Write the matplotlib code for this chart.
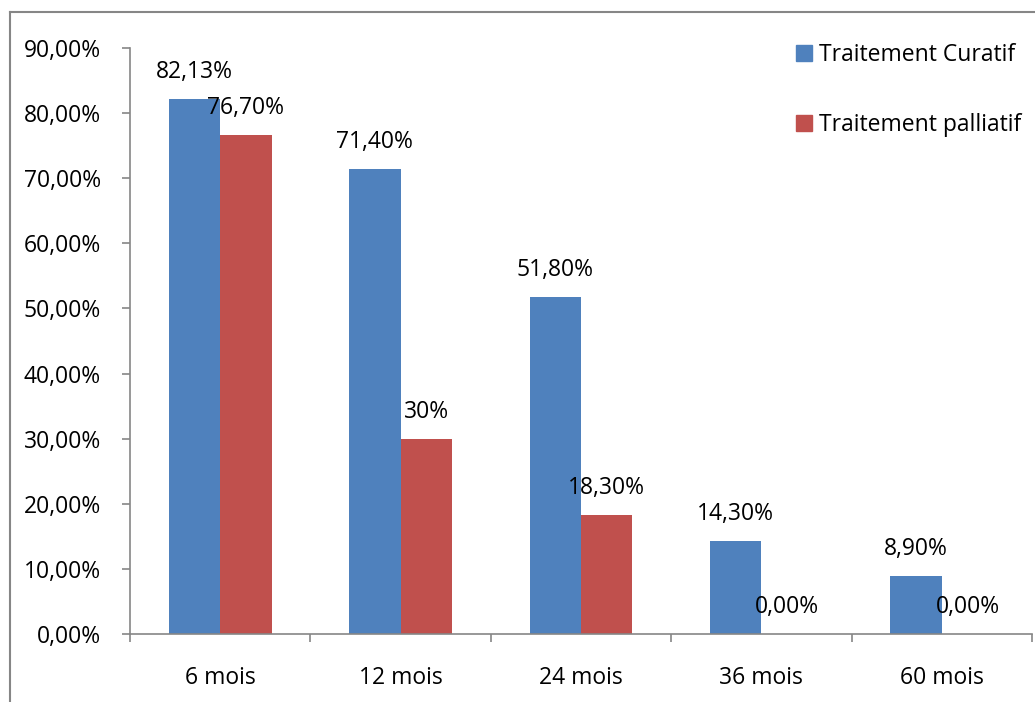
import matplotlib
matplotlib.use('Agg')
import matplotlib.pyplot as plt
import numpy as np
from matplotlib.patches import Patch
from matplotlib.lines import Line2D

# Survival rates by follow-up time (%)
periods = ["6 mois", "12 mois", "24 mois", "36 mois", "60 mois"]
curatif = [82.13, 71.40, 51.80, 14.30, 8.90]
palliatif = [76.70, 30.00, 18.30, 0.00, 0.00]
curatif_labels = ["82,13%", "71,40%", "51,80%", "14,30%", "8,90%"]
palliatif_labels = ["76,70%", "30%", "18,30%", "0,00%", "0,00%"]
series_names = ["Traitement Curatif", "Traitement palliatif"]
yticks = [0, 10, 20, 30, 40, 50, 60, 70, 80, 90]

BLUE = '#4F81BD'
RED = '#C0504D'
GRAY = '#868686'

plt.rcParams['font.family'] = ['Open Sans', 'DejaVu Sans']
FS = 16.5

fig = plt.figure(figsize=(10.35, 7.02), dpi=100)
ax = fig.add_axes([130 / 1035, 1 - 634 / 702, 902 / 1035, 586 / 702])

x = np.arange(len(periods))
w = 0.285
ax.bar(x - w / 2, curatif, w, color=BLUE)
ax.bar(x + w / 2, palliatif, w, color=RED)

# value labels above each bar
for xi, v, lab in zip(x - w / 2, curatif, curatif_labels):
    ax.annotate(lab, (xi, v), xytext=(0, 19.5), textcoords='offset points',
                ha='center', va='center', fontsize=FS)
for xi, v, lab in zip(x + w / 2, palliatif, palliatif_labels):
    ax.annotate(lab, (xi, v), xytext=(0, 19.5), textcoords='offset points',
                ha='center', va='center', fontsize=FS)

ax.set_xlim(-0.5, len(periods) - 0.5)
ax.set_ylim(0, 90)
ax.set_yticks(yticks)
ax.set_yticklabels([f"{t},00%" for t in yticks], fontsize=FS)
ax.tick_params(axis='y', length=6, width=1.2, color=GRAY, pad=15)

# category labels at centres, tick marks on the boundaries
ax.set_xticks(x)
ax.set_xticklabels(periods, fontsize=FS)
ax.set_xticks(np.arange(len(periods) + 1) - 0.5, minor=True)
ax.tick_params(axis='x', which='major', length=0, pad=23)
ax.tick_params(axis='x', which='minor', length=6, width=1.2, color=GRAY)

for s in ['top', 'right']:
    ax.spines[s].set_visible(False)
for s in ['left', 'bottom']:
    ax.spines[s].set_color(GRAY)
    ax.spines[s].set_linewidth(1.2)

handles = [Patch(color=BLUE), Patch(color=RED)]
fig.legend(handles, series_names, loc='upper left',
           bbox_to_anchor=(796 / 1035, 1 - 43 / 702), frameon=False,
           fontsize=FS, handlelength=0.7, handleheight=0.7,
           handletextpad=0.3, labelspacing=2.0, borderpad=0, borderaxespad=0)

# outer chart frame (left and top edges)
fig.add_artist(Line2D([10 / 1035, 10 / 1035], [0, 1 - 12 / 702],
                      transform=fig.transFigure, color=GRAY, lw=1.5))
fig.add_artist(Line2D([10 / 1035, 1], [1 - 12 / 702, 1 - 12 / 702],
                      transform=fig.transFigure, color=GRAY, lw=1.5))

fig.savefig('out.png', dpi=100)
